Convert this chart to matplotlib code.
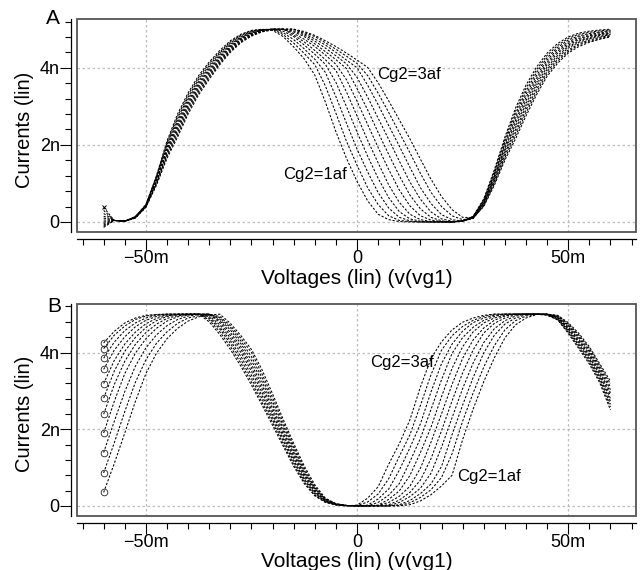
import matplotlib
matplotlib.use("Agg")
import matplotlib.pyplot as plt
from matplotlib.patches import Rectangle
from matplotlib.ticker import FixedLocator, MultipleLocator

plt.rcParams['font.family'] = ['Liberation Sans', 'DejaVu Sans']

# sweep of v(vg1), in mV
vg1 = [-60, -57.5, -55, -52.5, -50, -47.5, -45, -42.5, -40, -37.5, -35, -32.5,
       -30, -27.5, -25, -22.5, -20, -17.5, -15, -12.5, -10, -7.5, -5, -2.5,
       0, 2.5, 5, 7.5, 10, 12.5, 15, 17.5, 20, 22.5, 25, 27.5,
       30, 32.5, 35, 37.5, 40, 42.5, 45, 47.5, 50, 52.5, 55, 57.5, 60]

# ---- panel A currents (nA), Cg2 = 1.0af ... 3.0af ----
a_10 = [0.38, 0.04, 0.02, 0.14, 0.45, 1.20, 2.10, 2.80, 3.35, 3.80, 4.15, 4.45,
        4.70, 4.87, 4.97, 5.00, 4.97, 4.81, 4.54, 4.23, 3.81, 3.11, 2.34, 1.65,
        1.05, 0.55, 0.20, 0.06, 0.01, 0.00, 0.00, 0.00, 0.00, 0.00, 0.03, 0.15,
        0.60, 1.35, 2.20, 2.95, 3.55, 4.02, 4.38, 4.63, 4.80, 4.90, 4.95, 4.98, 5.00]
a_12 = [0.30, 0.04, 0.02, 0.14, 0.44, 1.18, 2.06, 2.74, 3.30, 3.75, 4.11, 4.41,
        4.67, 4.85, 4.96, 4.99, 5.00, 4.86, 4.64, 4.37, 4.08, 3.53, 2.82, 2.09,
        1.47, 0.89, 0.45, 0.16, 0.04, 0.01, 0.00, 0.00, 0.00, 0.00, 0.03, 0.14,
        0.58, 1.31, 2.14, 2.87, 3.47, 3.95, 4.32, 4.58, 4.76, 4.87, 4.92, 4.96, 4.98]
a_14 = [0.22, 0.04, 0.02, 0.13, 0.44, 1.15, 2.01, 2.68, 3.24, 3.70, 4.06, 4.38,
        4.64, 4.83, 4.94, 4.99, 5.00, 4.91, 4.73, 4.49, 4.22, 3.88, 3.25, 2.56,
        1.89, 1.30, 0.76, 0.36, 0.12, 0.03, 0.00, 0.00, 0.00, 0.00, 0.03, 0.14,
        0.56, 1.27, 2.08, 2.79, 3.39, 3.88, 4.26, 4.53, 4.72, 4.83, 4.89, 4.93, 4.96]
a_16 = [0.15, 0.04, 0.02, 0.13, 0.43, 1.13, 1.97, 2.62, 3.19, 3.65, 4.02, 4.34,
        4.61, 4.80, 4.93, 4.98, 5.00, 4.95, 4.81, 4.59, 4.35, 4.09, 3.62, 2.99,
        2.33, 1.71, 1.13, 0.63, 0.27, 0.08, 0.02, 0.00, 0.00, 0.00, 0.02, 0.13,
        0.54, 1.23, 2.02, 2.71, 3.31, 3.80, 4.20, 4.48, 4.67, 4.80, 4.86, 4.91, 4.94]
a_18 = [0.10, 0.04, 0.02, 0.12, 0.42, 1.10, 1.92, 2.56, 3.13, 3.60, 3.97, 4.30,
        4.58, 4.78, 4.91, 4.97, 5.00, 5.00, 4.85, 4.67, 4.45, 4.21, 3.93, 3.37,
        2.75, 2.12, 1.53, 0.96, 0.51, 0.20, 0.06, 0.01, 0.00, 0.00, 0.02, 0.12,
        0.52, 1.19, 1.96, 2.63, 3.23, 3.73, 4.14, 4.43, 4.63, 4.76, 4.83, 4.88, 4.92]
a_20 = [0.05, 0.04, 0.02, 0.12, 0.42, 1.08, 1.88, 2.50, 3.08, 3.55, 3.93, 4.27,
        4.55, 4.76, 4.90, 4.97, 5.00, 5.00, 4.89, 4.74, 4.55, 4.33, 4.09, 3.69,
        3.13, 2.53, 1.93, 1.36, 0.83, 0.42, 0.16, 0.05, 0.01, 0.00, 0.02, 0.12,
        0.50, 1.15, 1.90, 2.55, 3.15, 3.66, 4.08, 4.38, 4.59, 4.73, 4.81, 4.86, 4.90]
a_22 = [0.00, 0.04, 0.02, 0.12, 0.41, 1.05, 1.83, 2.44, 3.02, 3.50, 3.88, 4.23,
        4.52, 4.74, 4.88, 4.96, 5.00, 5.00, 4.93, 4.81, 4.62, 4.42, 4.21, 3.98,
        3.46, 2.91, 2.32, 1.75, 1.20, 0.70, 0.34, 0.12, 0.03, 0.00, 0.02, 0.11,
        0.48, 1.11, 1.84, 2.47, 3.07, 3.59, 4.02, 4.32, 4.55, 4.69, 4.78, 4.84, 4.88]
a_24 = [-0.04, 0.04, 0.02, 0.11, 0.40, 1.03, 1.79, 2.38, 2.97, 3.45, 3.84, 4.19,
        4.49, 4.72, 4.87, 4.95, 5.00, 5.00, 4.96, 4.85, 4.69, 4.51, 4.31, 4.10,
        3.75, 3.24, 2.69, 2.14, 1.58, 1.04, 0.59, 0.26, 0.08, 0.02, 0.02, 0.10,
        0.46, 1.07, 1.78, 2.39, 2.99, 3.52, 3.96, 4.27, 4.51, 4.66, 4.75, 4.81, 4.86]
a_26 = [-0.08, 0.04, 0.02, 0.11, 0.39, 1.00, 1.74, 2.32, 2.91, 3.40, 3.79, 4.15,
        4.46, 4.69, 4.85, 4.94, 5.00, 5.00, 5.00, 4.88, 4.75, 4.59, 4.40, 4.20,
        4.00, 3.55, 3.04, 2.50, 1.97, 1.42, 0.89, 0.48, 0.19, 0.06, 0.02, 0.09,
        0.44, 1.03, 1.72, 2.31, 2.91, 3.44, 3.90, 4.22, 4.46, 4.62, 4.72, 4.79, 4.84]
a_28 = [-0.11, 0.04, 0.02, 0.10, 0.39, 0.98, 1.70, 2.26, 2.86, 3.35, 3.75, 4.12,
        4.43, 4.67, 4.84, 4.94, 5.00, 5.00, 5.00, 4.91, 4.81, 4.65, 4.48, 4.30,
        4.11, 3.80, 3.34, 2.84, 2.32, 1.80, 1.26, 0.77, 0.40, 0.16, 0.06, 0.10,
        0.42, 0.99, 1.66, 2.23, 2.83, 3.37, 3.84, 4.17, 4.42, 4.59, 4.69, 4.76, 4.82]
a_30 = [-0.14, 0.04, 0.02, 0.10, 0.38, 0.95, 1.65, 2.20, 2.80, 3.30, 3.70, 4.08,
        4.40, 4.65, 4.82, 4.93, 4.98, 5.00, 5.00, 4.94, 4.84, 4.70, 4.55, 4.38,
        4.20, 4.01, 3.61, 3.14, 2.65, 2.16, 1.63, 1.11, 0.66, 0.32, 0.12, 0.11,
        0.40, 0.95, 1.60, 2.15, 2.75, 3.30, 3.78, 4.12, 4.38, 4.55, 4.66, 4.74, 4.80]

# ---- panel B currents (nA), Cg2 = 1.0af ... 3.0af ----
b_10 = [0.35, 1.10, 1.90, 2.72, 3.45, 3.98, 4.36, 4.63, 4.82, 4.93, 4.98, 5.00,
        4.76, 4.44, 4.08, 3.55, 2.92, 2.26, 1.63, 1.04, 0.55, 0.20, 0.06, 0.01,
        0.00, 0.00, 0.00, 0.00, 0.00, 0.03, 0.13, 0.29, 0.52, 0.80, 1.73, 2.53,
        3.24, 3.86, 4.38, 4.72, 4.90, 4.99, 5.00, 4.97, 4.78, 4.50, 4.15, 3.70, 3.25]
b_12 = [0.86, 1.64, 2.46, 3.22, 3.81, 4.24, 4.54, 4.76, 4.90, 4.96, 4.99, 4.94,
        4.70, 4.37, 4.00, 3.44, 2.82, 2.18, 1.56, 0.98, 0.50, 0.19, 0.05, 0.01,
        0.00, 0.00, 0.00, 0.00, 0.01, 0.08, 0.22, 0.42, 0.74, 1.36, 2.21, 2.95,
        3.62, 4.18, 4.59, 4.83, 4.95, 5.00, 5.00, 4.96, 4.75, 4.46, 4.11, 3.65, 3.18]
b_14 = [1.39, 2.20, 2.98, 3.64, 4.12, 4.46, 4.70, 4.86, 4.95, 4.99, 5.00, 4.91,
        4.65, 4.30, 3.89, 3.34, 2.72, 2.10, 1.50, 0.92, 0.47, 0.18, 0.05, 0.01,
        0.00, 0.00, 0.00, 0.00, 0.03, 0.14, 0.32, 0.57, 1.03, 1.86, 2.63, 3.35,
        3.99, 4.45, 4.74, 4.90, 4.98, 5.00, 5.00, 4.95, 4.72, 4.42, 4.06, 3.60, 3.10]
b_16 = [1.90, 2.72, 3.45, 3.98, 4.36, 4.63, 4.82, 4.93, 4.98, 5.00, 5.00, 4.87,
        4.59, 4.23, 3.79, 3.24, 2.63, 2.02, 1.43, 0.87, 0.45, 0.16, 0.05, 0.01,
        0.00, 0.00, 0.00, 0.00, 0.09, 0.24, 0.46, 0.85, 1.53, 2.30, 3.06, 3.73,
        4.26, 4.62, 4.83, 4.95, 5.00, 5.00, 5.00, 4.93, 4.70, 4.38, 4.02, 3.55, 3.03]
b_18 = [2.39, 3.16, 3.77, 4.21, 4.52, 4.74, 4.89, 4.96, 4.99, 5.00, 5.00, 4.83,
        4.52, 4.15, 3.69, 3.14, 2.54, 1.95, 1.37, 0.83, 0.42, 0.15, 0.04, 0.01,
        0.00, 0.00, 0.00, 0.03, 0.15, 0.35, 0.67, 1.23, 1.96, 2.74, 3.47, 4.07,
        4.51, 4.76, 4.90, 4.98, 5.00, 5.00, 5.00, 4.92, 4.67, 4.34, 3.97, 3.50, 2.95]
b_20 = [2.81, 3.51, 4.03, 4.39, 4.65, 4.83, 4.94, 4.98, 5.00, 5.00, 5.00, 4.78,
        4.45, 4.08, 3.60, 3.05, 2.46, 1.88, 1.31, 0.79, 0.39, 0.14, 0.04, 0.01,
        0.00, 0.00, 0.01, 0.09, 0.25, 0.51, 0.98, 1.66, 2.40, 3.17, 3.85, 4.33,
        4.64, 4.84, 4.95, 5.00, 5.00, 5.00, 5.00, 4.91, 4.64, 4.30, 3.93, 3.45, 2.88]
b_22 = [3.19, 3.79, 4.22, 4.53, 4.75, 4.89, 4.96, 4.99, 5.00, 5.00, 4.96, 4.72,
        4.38, 4.00, 3.51, 2.96, 2.38, 1.82, 1.25, 0.74, 0.36, 0.13, 0.04, 0.01,
        0.00, 0.00, 0.02, 0.17, 0.39, 0.79, 1.39, 2.05, 2.85, 3.59, 4.15, 4.54,
        4.77, 4.90, 4.97, 5.00, 5.00, 5.00, 4.99, 4.90, 4.61, 4.26, 3.88, 3.40, 2.80]
b_24 = [3.56, 4.06, 4.41, 4.67, 4.84, 4.94, 4.98, 5.00, 5.00, 5.00, 4.93, 4.66,
        4.31, 3.90, 3.41, 2.87, 2.31, 1.75, 1.19, 0.70, 0.34, 0.12, 0.03, 0.01,
        0.00, 0.00, 0.09, 0.28, 0.58, 1.15, 1.76, 2.51, 3.29, 3.98, 4.39, 4.66,
        4.84, 4.94, 5.00, 5.00, 5.00, 5.00, 4.99, 4.89, 4.58, 4.22, 3.84, 3.35, 2.73]
b_26 = [3.85, 4.27, 4.57, 4.77, 4.90, 4.97, 5.00, 5.00, 5.00, 5.00, 4.89, 4.61,
        4.24, 3.81, 3.32, 2.79, 2.24, 1.69, 1.14, 0.66, 0.31, 0.11, 0.03, 0.00,
        0.00, 0.02, 0.18, 0.44, 0.93, 1.51, 2.14, 2.97, 3.71, 4.22, 4.56, 4.78,
        4.90, 4.97, 5.00, 5.00, 5.00, 5.00, 4.99, 4.87, 4.56, 4.18, 3.79, 3.30, 2.65]
b_28 = [4.10, 4.45, 4.69, 4.86, 4.95, 4.99, 5.00, 5.00, 5.00, 5.00, 4.85, 4.54,
        4.16, 3.72, 3.23, 2.70, 2.17, 1.62, 1.08, 0.62, 0.28, 0.10, 0.03, 0.00,
        0.01, 0.10, 0.31, 0.71, 1.29, 1.85, 2.62, 3.42, 4.06, 4.44, 4.68, 4.84,
        4.94, 5.00, 5.00, 5.00, 5.00, 5.00, 4.98, 4.86, 4.53, 4.14, 3.75, 3.25, 2.58]
b_30 = [4.25, 4.55, 4.77, 4.90, 4.97, 4.99, 5.00, 5.00, 5.00, 5.00, 4.80, 4.47,
        4.08, 3.64, 3.15, 2.63, 2.10, 1.56, 1.03, 0.58, 0.26, 0.09, 0.02, 0.00,
        0.02, 0.20, 0.50, 1.09, 1.62, 2.24, 3.10, 3.84, 4.28, 4.59, 4.79, 4.90,
        4.97, 5.00, 5.00, 5.00, 5.00, 5.00, 4.97, 4.85, 4.50, 4.10, 3.70, 3.20, 2.50]

curves_a = [a_10, a_12, a_14, a_16, a_18, a_20, a_22, a_24, a_26, a_28, a_30]
curves_b = [b_10, b_12, b_14, b_16, b_18, b_20, b_22, b_24, b_26, b_28, b_30]

xticks = [-50, 0, 50]
xticklabels = ['\u221250m', '0', '50m']
yticks = [0, 2, 4]
yticklabels = ['0', '2n', '4n']

# label text, position (mV, nA)
notes_a = [('Cg2=3af', 4.7, 3.82), ('Cg2=1af', -17.5, 1.23)]
notes_b = [('Cg2=3af', 3.1, 3.75), ('Cg2=1af', 23.7, 0.77)]

fig = plt.figure(figsize=(6.42, 5.70), dpi=100)
ax_a = fig.add_axes([0.120, 0.593, 0.871, 0.374])
ax_b = fig.add_axes([0.120, 0.095, 0.871, 0.372])

dash = (0, (2.2, 1.6))

for ax, curves, notes, letter in [(ax_a, curves_a, notes_a, 'A'),
                                  (ax_b, curves_b, notes_b, 'B')]:
    for c in curves:
        ax.plot(vg1, c, color='black', lw=0.75, ls=dash)

    if letter == 'B':
        # small loops where the sweep starts
        for c in curves:
            ax.plot(vg1[0], c[0], marker='o', ms=4.8, mfc='none',
                    mec='#222222', mew=0.6, ls='none')
    else:
        ax.plot(vg1[0], curves[0][0], marker='x', ms=3.5, color='black', mew=0.7)

    for txt, x, y in notes:
        ax.text(x, y, txt, fontsize=12, va='center', ha='left')

    ax.set_xlim(-66.3, 66.1)
    ax.set_ylim(-0.26, 5.27)

    ax.xaxis.set_major_locator(FixedLocator(xticks))
    ax.set_xticklabels(xticklabels)
    ax.xaxis.set_minor_locator(MultipleLocator(5))
    ax.yaxis.set_major_locator(FixedLocator(yticks))
    ax.set_yticklabels(yticklabels)
    ax.yaxis.set_minor_locator(MultipleLocator(0.4))

    ax.tick_params(which='major', length=8, width=0.8, labelsize=13)
    ax.tick_params(which='minor', length=4, width=0.8)
    ax.tick_params(axis='x', which='major', pad=0)
    ax.tick_params(axis='y', which='major', pad=0.5)

    ax.grid(True, which='major', ls=(0, (2, 2)), color='#bdbdbd', lw=0.9)

    ax.spines['top'].set_visible(False)
    ax.spines['right'].set_visible(False)
    ax.spines['left'].set_position(('outward', 4))
    ax.spines['bottom'].set_position(('outward', 5))
    for s in ['left', 'bottom']:
        ax.spines[s].set_linewidth(0.9)

    ax.add_patch(Rectangle((0, 0), 1, 1, transform=ax.transAxes, fill=False,
                           ec='#555555', lw=1.3, clip_on=False, zorder=5))

    ax.set_xlabel('Voltages (lin) (v(vg1)', fontsize=15)
    ax.xaxis.set_label_coords(0.5, -0.172)
    ax.set_ylabel('Currents (lin)', fontsize=14.5)
    ax.yaxis.set_label_coords(-0.077, 0.48)

fig.text(53 / 642, 1 - 18 / 570, 'A', fontsize=15, ha='center', va='center')
fig.text(54 / 642, 1 - 307 / 570, 'B', fontsize=15, ha='center', va='center')

fig.savefig('out.png', dpi=100)
